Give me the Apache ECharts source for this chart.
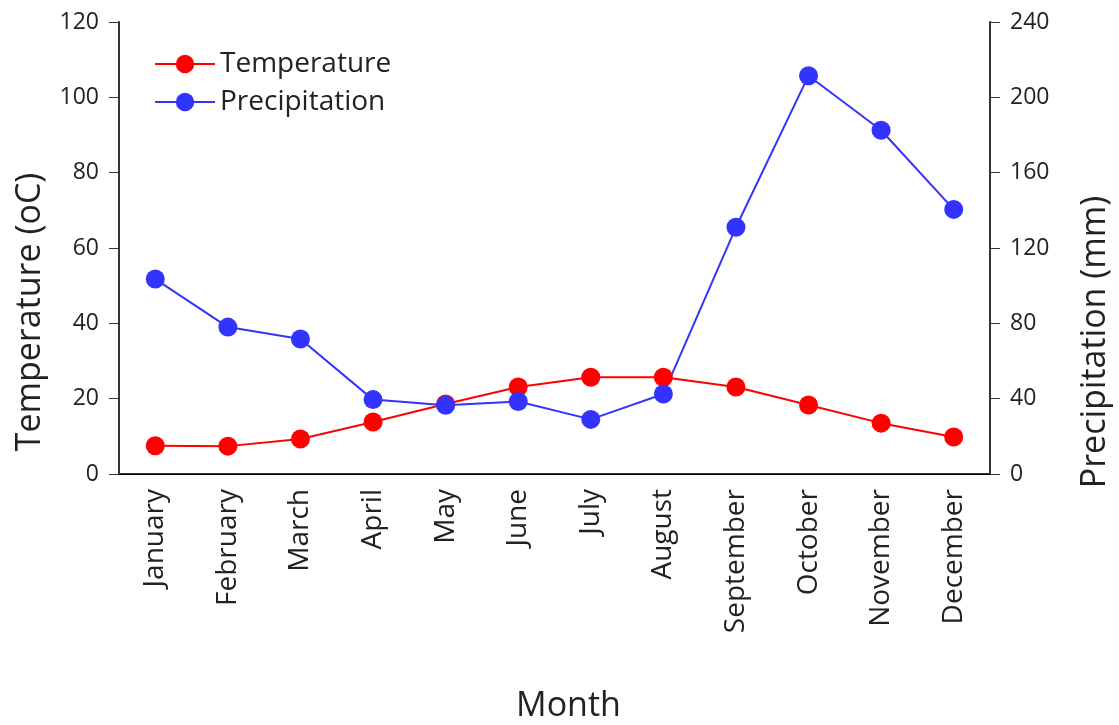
<!doctype html>
<meta charset="utf-8">
<style>
  html, body { margin: 0; height: 100%; background: #fff; }
  #chart { width: 1119px; height: 725px; }
</style>
<script src="https://cdn.jsdelivr.net/npm/echarts@6.0.0/dist/echarts.min.js"></script>
<div id="chart"></div>
<script>
  const months = ['January', 'February', 'March', 'April', 'May', 'June', 'July', 'August', 'September', 'October', 'November', 'December']
  const temperature = [7.5, 7.4, 9.3, 13.8, 18.6, 23.1, 25.7, 25.7, 23.1, 18.3, 13.5, 9.8]
  const precipitation = [103.5, 78, 71.7, 39.5, 36.5, 38.5, 29, 42.5, 131, 211.5, 182.5, 140.5]

  const font = 'Open Sans'
  const ink = '#222'
  let chart = echarts.init(document.getElementById('chart'))

  chart.setOption({
    animation: false,
    textStyle: { fontFamily: font },
    grid: { left: 119, right: 129, top: 22, bottom: 251, containLabel: false, outerBoundsMode: 'none' },
    legend: {
      left: 149, top: 45, orient: 'vertical',
      itemWidth: 60, itemHeight: 23, itemGap: 10,
      textStyle: { fontSize: 28, color: ink, fontFamily: font },
      data: ['Temperature', 'Precipitation'],
    },
    xAxis: [{
      type: 'category',
      data: months,
      name: 'Month',
      nameLocation: 'middle',
      nameGap: 215,
      nameTextStyle: { fontSize: 34, color: ink, padding: [0, 0, 0, 28] },
      axisLine: { lineStyle: { color: '#333', width: 2 } },
      axisTick: { length: 12, lineStyle: { color: '#333' } },
      axisLabel: { rotate: 90, fontSize: 28, color: ink, margin: 15 },
    }, {
      type: 'category',
      position: 'top',
      data: months,
      axisLine: { lineStyle: { color: '#000', width: 1 } },
      axisTick: { show: false },
      axisLabel: { show: false },
    }],
    yAxis: [{
      type: 'value',
      min: 0, max: 120, interval: 20,
      name: 'Temperature (oC)',
      nameLocation: 'middle',
      nameGap: 72,
      nameTextStyle: { fontSize: 34, color: ink, padding: [0, 128, 0, 0] },
      axisLine: { show: true, lineStyle: { color: '#333', width: 2 } },
      axisTick: { show: true, length: 10, lineStyle: { color: '#333' } },
      axisLabel: { fontSize: 23, color: ink, margin: 20 },
      splitLine: { show: false },
    }, {
      type: 'value',
      position: 'right',
      min: 0, max: 240, interval: 40,
      name: 'Precipitation (mm)',
      nameLocation: 'middle',
      nameGap: 88,
      nameRotate: 90,
      nameTextStyle: { fontSize: 34, color: ink, padding: [0, 188, 0, 0] },
      axisLine: { show: true, lineStyle: { color: '#333', width: 2 } },
      axisTick: { show: true, length: 10, lineStyle: { color: '#333' } },
      axisLabel: { fontSize: 23, color: ink, margin: 20 },
      splitLine: { show: false },
    }],
    series: [{
      name: 'Temperature',
      type: 'line',
      data: temperature,
      yAxisIndex: 0,
      symbol: 'circle',
      symbolSize: 19,
      color: '#ff0000',
      lineStyle: { width: 2 },
    }, {
      name: 'Precipitation',
      type: 'line',
      data: precipitation,
      yAxisIndex: 1,
      symbol: 'circle',
      symbolSize: 19,
      color: '#3333ff',
      lineStyle: { width: 2 },
    }],
  })
</script>
